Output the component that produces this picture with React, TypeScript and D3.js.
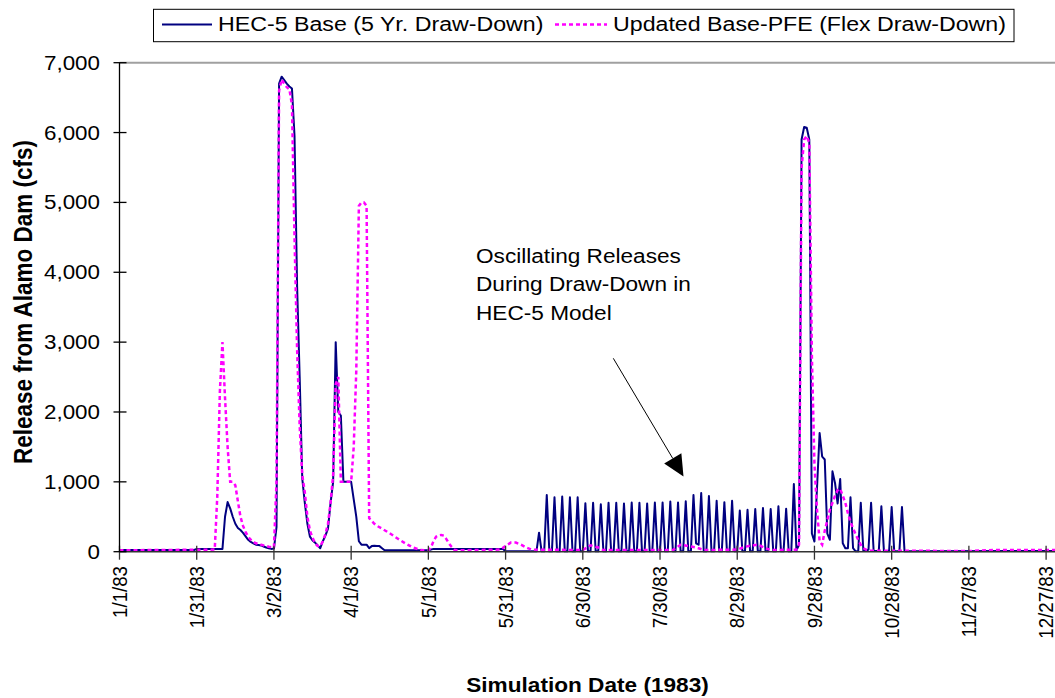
import React from "react";
import * as d3 from "d3";

// ---------- DATA ----------
// Day index (0 = 1/1/83) and release (cfs)
const baseSeries: [number, number][] = [
  [0, 25], [29, 25], [30, 40], [40, 40], [41, 500], [42, 710], [43, 620], [44, 500], [45, 400], [46, 340],
  [47, 310], [48, 270], [49, 220], [50, 170], [51, 140], [52, 120], [53, 100], [54, 95], [55, 90], [56, 75],
  [57, 60], [58, 50], [59, 40], [60, 45], [61, 350], [62, 6700], [63, 6800], [64, 6750], [65, 6700], [66, 6660],
  [67, 6630], [68, 5950], [69, 3800], [70, 2500], [71, 1050], [72, 700], [73, 400], [74, 215], [75, 160], [76, 130],
  [77, 90], [78, 50], [79, 150], [80, 230], [81, 330], [82, 700], [83, 1000], [84, 3000], [85, 2000], [86, 1950],
  [87, 1000], [88, 1000], [89, 1000], [90, 1000], [91, 750], [92, 500], [93, 150], [94, 100], [95, 100], [96, 100],
  [97, 50], [98, 80], [99, 85], [100, 80], [101, 80], [102, 50], [103, 20], [120, 20], [122, 40], [149, 40],
  [150, 5], [162, 5],
  [163, 272], [164, 5], [165, 5], [166, 812], [167, 5], [168, 5], [169, 780], [170, 5], [171, 5], [172, 790],
  [173, 5], [174, 5], [175, 780], [176, 5], [177, 5], [178, 780], [179, 5], [180, 5], [181, 692], [182, 5],
  [183, 5], [184, 700], [185, 5], [186, 5], [187, 680], [188, 5], [189, 5], [190, 700], [191, 5], [192, 5],
  [193, 700], [194, 5], [195, 5], [196, 690], [197, 5], [198, 5], [199, 705], [200, 5], [201, 5], [202, 700],
  [203, 5], [204, 5], [205, 690], [206, 5], [207, 5], [208, 705], [209, 5], [210, 5], [211, 705], [212, 5],
  [213, 5], [214, 719], [215, 5], [216, 5], [217, 705], [218, 5], [219, 5], [220, 723], [221, 5], [222, 5],
  [223, 812], [224, 120], [225, 100], [226, 840], [227, 5], [228, 5], [229, 797], [230, 5], [231, 5], [232, 728],
  [233, 5], [234, 5], [235, 709], [236, 5], [237, 5], [238, 728], [239, 5], [240, 5], [241, 590], [242, 5],
  [243, 5], [244, 600], [245, 5], [246, 5], [247, 610], [248, 5], [249, 5], [250, 625], [251, 5], [252, 5],
  [253, 610], [254, 5], [255, 5], [256, 650], [257, 5], [258, 5], [259, 615], [260, 5], [261, 5], [262, 969],
  [263, 20], [264, 100], [265, 5900], [266, 6080], [267, 6070], [268, 5900], [269, 260], [270, 145], [271, 920],
  [272, 1700], [273, 1360], [274, 1320], [275, 260], [276, 170], [277, 1150], [278, 980], [279, 690], [280, 1040],
  [281, 120], [282, 50], [283, 50], [284, 780], [285, 50], [286, 5], [287, 5], [288, 700], [289, 10], [290, 10],
  [291, 30], [292, 700], [293, 10], [294, 10], [295, 10], [296, 650], [297, 5], [298, 5], [299, 5], [300, 640],
  [301, 5], [302, 5], [303, 5], [304, 640], [305, 5], [364, 10],
];

const flexSeries: [number, number][] = [
  [0, 20], [37, 30], [38, 800], [39, 2300], [40, 3000], [41, 2200], [42, 1500], [43, 1000], [44, 1000], [45, 950],
  [46, 720], [47, 500], [48, 370], [49, 280], [50, 215], [51, 170], [52, 140], [53, 120], [54, 110], [55, 100],
  [56, 90], [57, 80], [58, 72], [59, 65], [60, 60], [61, 1000], [62, 6600], [63, 6760], [64, 6700], [65, 6650],
  [66, 6620], [67, 6400], [68, 4500], [69, 2900], [70, 1800], [71, 1100], [72, 850], [73, 500], [74, 300], [75, 200],
  [76, 120], [77, 80], [78, 80], [79, 150], [80, 250], [81, 400], [82, 700], [83, 1100], [84, 2400], [85, 2500],
  [86, 1000], [87, 1000], [88, 1000], [89, 1000], [90, 1000], [91, 1500], [92, 2600], [93, 4950], [94, 5000],
  [95, 5000], [96, 4950], [97, 480], [98, 440], [99, 400], [100, 370], [102, 330], [105, 263], [108, 190],
  [111, 120], [114, 60], [117, 24], [120, 20], [121, 60], [122, 150], [123, 215], [124, 235], [125, 240],
  [126, 230], [127, 180], [128, 120], [129, 70], [130, 30], [131, 20], [148, 30], [150, 80], [152, 130],
  [154, 130], [156, 100], [158, 60], [160, 30], [180, 24], [183, 91], [186, 60], [188, 24], [215, 24],
  [218, 100], [221, 80], [224, 60], [227, 24], [240, 30], [243, 70], [245, 85], [248, 100], [251, 50],
  [253, 24], [263, 30], [264, 100], [265, 5500], [266, 5900], [267, 5950], [268, 5850], [269, 2800], [270, 1250],
  [271, 600], [272, 150], [273, 100], [274, 300], [275, 450], [276, 600], [277, 700], [278, 800], [279, 880],
  [280, 900], [281, 800], [282, 700], [283, 550], [284, 430], [285, 335], [286, 250], [287, 170], [288, 100],
  [289, 50], [290, 30], [292, 15], [330, 10], [340, 25], [364, 25],
];

const xTickDays = [0, 30, 60, 90, 120, 150, 180, 210, 240, 270, 300, 330, 360];
const xTickLabels = [
  "1/1/83", "1/31/83", "3/2/83", "4/1/83", "5/1/83", "5/31/83", "6/30/83",
  "7/30/83", "8/29/83", "9/28/83", "10/28/83", "11/27/83", "12/27/83",
];
const yTicks = [0, 1000, 2000, 3000, 4000, 5000, 6000, 7000];

const seriesNames = ["HEC-5 Base (5 Yr. Draw-Down)", "Updated Base-PFE (Flex Draw-Down)"];
const annotationLines = ["Oscillating Releases", "During Draw-Down in", "HEC-5 Model"];

// ---------- LAYOUT ----------
const W = 1055;
const H = 698;
const FONT = "'Liberation Sans', Arial, Helvetica, sans-serif";
const SX = 1.16;

const x = d3.scaleLinear().domain([0, 364]).range([119.5, 1056.4]);
const y = d3.scaleLinear().domain([0, 7000]).range([551.7, 62.7]);

const lineGen = d3
  .line<[number, number]>()
  .x((d) => x(d[0]))
  .y((d) => y(d[1]));

const fmt = d3.format(",");

function SText(props: {
  x: number;
  y: number;
  rotate?: number;
  sx?: number;
  size: number;
  anchor?: string;
  bold?: boolean;
  dy?: string;
  children: React.ReactNode;
}) {
  const { rotate, sx = SX } = props;
  return (
    <g transform={`translate(${props.x},${props.y}) scale(${sx},1)${rotate ? ` rotate(${rotate})` : ""}`}>
      <text
        fontFamily={FONT}
        fontSize={props.size}
        fontWeight={props.bold ? "bold" : "normal"}
        textAnchor={props.anchor || "start"}
        dy={props.dy}
        fill="#000"
      >
        {props.children}
      </text>
    </g>
  );
}

export default function App() {
  const xLeft = x(0);
  const xRight = W;
  const yBottom = y(0);
  const yTop = y(7000);

  // arrow annotation
  const aStart = [613.3, 358.3];
  const aTip = [683.5, 476.5];
  const dx = aTip[0] - aStart[0];
  const dyA = aTip[1] - aStart[1];
  const len = Math.sqrt(dx * dx + dyA * dyA);
  const ux = dx / len;
  const uy = dyA / len;
  const headLen = 21;
  const halfW = 10;
  const bx = aTip[0] - headLen * ux;
  const by = aTip[1] - headLen * uy;
  const c1 = [bx - halfW * uy, by + halfW * ux];
  const c2 = [bx + halfW * uy, by - halfW * ux];

  return (
    <div style={{ position: "absolute", left: 0, top: 0 }}>
      <svg width={W} height={H} style={{ display: "block", background: "#fff" }}>
        {/* plot frame top */}
        <line x1={xLeft} x2={xRight} y1={yTop} y2={yTop} stroke="#a0a0a0" strokeWidth={2} />

        {/* series */}
        <path d={lineGen(baseSeries) || ""} fill="none" stroke="#000080" strokeWidth={2} strokeLinejoin="round" />
        <path
          d={lineGen(flexSeries) || ""}
          fill="none"
          stroke="#ff00ff"
          strokeWidth={2.5}
          strokeDasharray="4 3"
        />

        {/* x axis */}
        <line x1={xLeft} x2={xRight} y1={yBottom} y2={yBottom} stroke="#333" strokeWidth={1.5} />
        {xTickDays.map((d, i) => (
          <g key={"xt" + i}>
            <line x1={x(d)} x2={x(d)} y1={yBottom - 6} y2={yBottom + 8} stroke="#333" strokeWidth={1.3} />
            <SText x={x(d)} y={566} rotate={-90} sx={1.1} size={18.7} anchor="end" dy="0.35em">
              {xTickLabels[i]}
            </SText>
          </g>
        ))}

        {/* y axis */}
        <line x1={xLeft} x2={xLeft} y1={yTop} y2={yBottom} stroke="#000" strokeWidth={1.3} />
        {yTicks.map((v) => (
          <g key={"yt" + v}>
            <line x1={xLeft - 6} x2={xLeft + 7} y1={y(v)} y2={y(v)} stroke="#000" strokeWidth={1.3} />
            <SText x={100} y={y(v)} size={19.3} anchor="end" dy="0.36em">
              {fmt(v)}
            </SText>
          </g>
        ))}

        {/* axis titles */}
        <SText x={23} y={302} rotate={-90} size={22.5} bold anchor="middle" dy="0.35em">
          Release from Alamo Dam (cfs)
        </SText>
        <SText x={587.5} y={692} size={19.5} bold anchor="middle">
          Simulation Date (1983)
        </SText>

        {/* annotation */}
        {annotationLines.map((t, i) => (
          <SText key={"an" + i} x={476} y={263 + i * 28.3} size={19.5}>
            {t}
          </SText>
        ))}
        <line x1={aStart[0]} y1={aStart[1]} x2={bx} y2={by} stroke="#000" strokeWidth={1} />
        <polygon points={`${aTip[0]},${aTip[1]} ${c1[0]},${c1[1]} ${c2[0]},${c2[1]}`} fill="#000" />

        {/* legend */}
        <rect x={153.5} y={9.3} width={860.5} height={32.4} fill="#fff" stroke="#000" strokeWidth={1} />
        <line x1={162} x2={212} y1={24.5} y2={24.5} stroke="#000080" strokeWidth={2} />
        <SText x={218} y={30.5} size={20}>
          {seriesNames[0]}
        </SText>
        <line x1={555} x2={607} y1={24.5} y2={24.5} stroke="#ff00ff" strokeWidth={2.5} strokeDasharray="4 3" />
        <SText x={613} y={30.5} size={20}>
          {seriesNames[1]}
        </SText>
      </svg>
    </div>
  );
}
